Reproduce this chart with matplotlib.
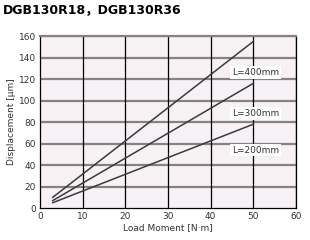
import matplotlib
matplotlib.use("Agg")
import matplotlib.pyplot as plt

# data
moment = [3, 50]
disp_400 = [10, 155]
disp_300 = [7, 116]
disp_200 = [5, 78]
labels = ["L=400mm", "L=300mm", "L=200mm"]
label_pos = [(50.5, 126), (50.5, 88), (50.5, 54)]
xticks = [0, 10, 20, 30, 40, 50, 60]
yticks = [0, 20, 40, 60, 80, 100, 120, 140, 160]

plt.rcParams['font.family'] = ['Liberation Sans Narrow', 'DejaVu Sans']

fig = plt.figure(figsize=(3.1, 2.4), dpi=100)
ax = fig.add_axes([0.129, 0.133, 0.826, 0.717])
ax.set_facecolor("#f5f1f5")

for y in yticks[1:]:
    ax.axhline(y, color="#8a8080", lw=1.6, zorder=1)
for x in xticks[1:]:
    ax.axvline(x, color="black", lw=0.9, zorder=1)

for d in (disp_400, disp_300, disp_200):
    ax.plot(moment, d, color="#3a3a3a", lw=1.1, zorder=3)

for txt, (x, y) in zip(labels, label_pos):
    ax.text(x, y, txt, ha="center", va="center", fontsize=6.5, color="#333333",
            bbox=dict(facecolor="white", edgecolor="none", pad=1.2), zorder=4)

ax.set_xlim(0, 60)
ax.set_ylim(0, 160)
ax.set_xticks(xticks)
ax.set_yticks(yticks)
ax.tick_params(length=0, labelsize=6.5, colors="#333333", pad=3)
for s in ("left", "bottom", "right"):
    ax.spines[s].set_color("black")
    ax.spines[s].set_linewidth(0.9)
ax.spines["top"].set_color("#8a8080")
ax.spines["top"].set_linewidth(1.6)

ax.set_xlabel("Load Moment [N·m]", fontsize=6.5, color="#333333", labelpad=1)
ax.set_ylabel("Displacement [μm]", fontsize=6.5, color="#333333", labelpad=2)

fig.text(0.01, 0.955, "DGB130R18，DGB130R36", fontsize=9, fontweight="heavy",
         family=["DejaVu Sans", "Noto Sans CJK JP"], va="center", ha="left")

fig.savefig("out.png", dpi=100)
